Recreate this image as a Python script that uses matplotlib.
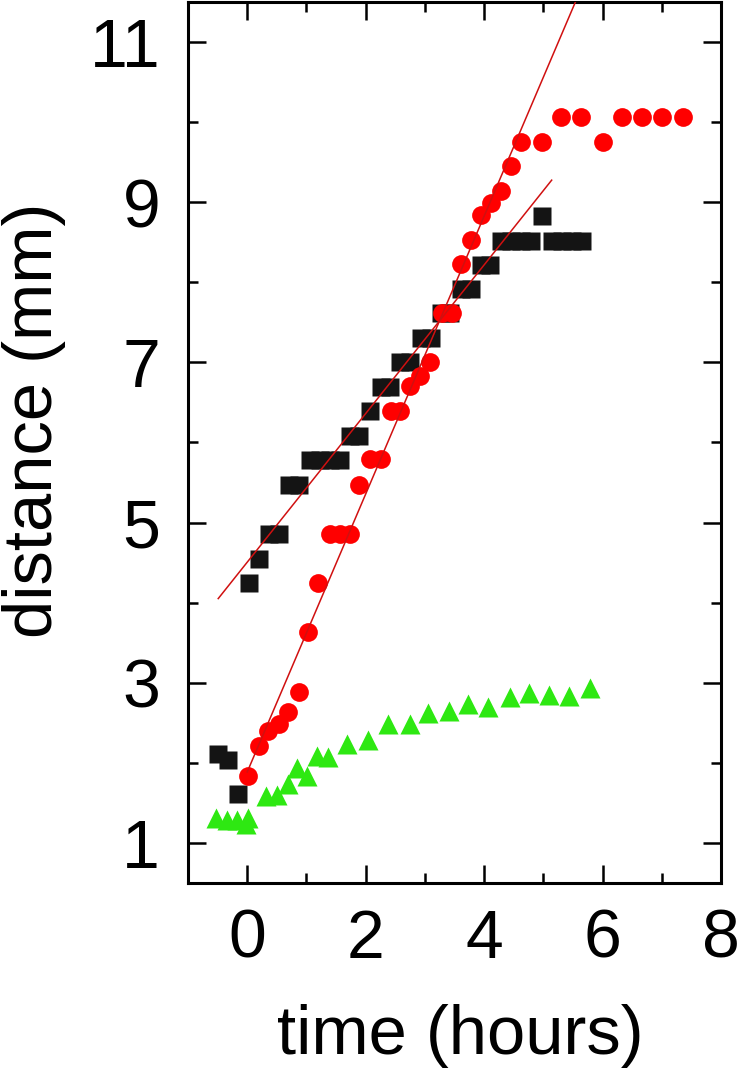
import matplotlib.pyplot as plt
import numpy as np

plt.rcParams['font.family'] = ['Liberation Sans', 'DejaVu Sans']

#-----Data-----#
# black squares
sq_t = [-0.49, -0.32, -0.15, 0.03, 0.20, 0.37, 0.54, 0.71, 0.88, 1.06, 1.23, 1.40, 1.56,
        1.74, 1.89, 2.08, 2.25, 2.41, 2.58, 2.75, 2.93, 3.10, 3.27, 3.43, 3.61, 3.77,
        3.95, 4.10, 4.28, 4.45, 4.62, 4.79, 4.97, 5.14, 5.31, 5.48, 5.65]
sq_d = [2.11, 2.04, 1.61, 4.25, 4.55, 4.86, 4.86, 5.47, 5.47, 5.78, 5.78, 5.78, 5.78,
        6.08, 6.08, 6.39, 6.69, 6.69, 7.00, 7.00, 7.30, 7.30, 7.61, 7.61, 7.91, 7.91,
        8.21, 8.21, 8.52, 8.52, 8.52, 8.52, 8.83, 8.52, 8.52, 8.52, 8.52]

# red circles
ci_t = [0.02, 0.20, 0.35, 0.54, 0.69, 0.88, 1.03, 1.20, 1.39, 1.57, 1.74, 1.89,
        2.08, 2.25, 2.42, 2.58, 2.75, 2.92, 3.09, 3.28, 3.45, 3.61, 3.78, 3.95,
        4.12, 4.29, 4.46, 4.63, 4.97, 5.30, 5.64, 6.00, 6.33, 6.67, 7.01, 7.35]
ci_d = [1.83, 2.21, 2.40, 2.49, 2.64, 2.88, 3.63, 4.25, 4.86, 4.86, 4.86, 5.47,
        5.79, 5.79, 6.39, 6.39, 6.70, 6.83, 7.00, 7.61, 7.61, 8.23, 8.53, 8.84,
        8.99, 9.14, 9.45, 9.75, 9.75, 10.06, 10.06, 9.75, 10.06, 10.06, 10.06, 10.06]

# green triangles
tr_t = [-0.52, -0.35, -0.17, -0.02, 0.02, 0.32, 0.51, 0.69, 0.84, 1.01, 1.18, 1.37,
        1.69, 2.04, 2.38, 2.74, 3.06, 3.41, 3.73, 4.07, 4.43, 4.76, 5.10, 5.44, 5.79]
tr_d = [1.31, 1.29, 1.29, 1.23, 1.31, 1.58, 1.60, 1.74, 1.93, 1.84, 2.08, 2.07,
        2.24, 2.29, 2.49, 2.49, 2.62, 2.65, 2.73, 2.70, 2.82, 2.87, 2.85, 2.84, 2.93]

# linear fits (slope, intercept, t range)
fit_sq = (0.928, 4.505, -0.49, 5.14)
fit_ci = (1.735, 1.886, 0.0, 5.8)

#-----Plot-----#
fig = plt.figure(figsize=(7.5, 10.82), dpi=100)
ax = fig.add_axes([0.2507, 0.184, 0.7107, 0.8142])

for slope, icpt, t0, t1 in (fit_sq, fit_ci):
    tt = np.array([t0, t1])
    ax.plot(tt, slope * tt + icpt, color='#d01010', lw=1.1, zorder=3)

ax.plot(sq_t, sq_d, 's', color='#141414', ms=12.4, mec='none', zorder=2)
ax.plot(ci_t, ci_d, 'o', color='#ff0000', ms=13.5, mec='none', zorder=2)
ax.plot(tr_t, tr_d, '^', color='#2ee812', ms=15, mec='none', zorder=2)

ax.set_xlim(-1, 8)
ax.set_ylim(0.5, 11.5)
ax.set_xticks([0, 2, 4, 6, 8])
ax.set_xticks([1, 3, 5, 7], minor=True)
ax.set_yticks([1, 3, 5, 7, 9, 11])
ax.set_yticks([2, 4, 6, 8, 10], minor=True)

for s in ax.spines.values():
    s.set_linewidth(2.2)
ax.tick_params(which='both', direction='in', top=True, right=True, width=1.8)
ax.tick_params(which='major', length=13, labelsize=49)
ax.tick_params(which='minor', length=7)
ax.tick_params(axis='x', pad=18)
ax.tick_params(axis='y', pad=20)

ax.set_xlabel("time (hours)", fontsize=49.5)
ax.xaxis.set_label_coords(0.51, -0.138)
ax.set_ylabel("distance (mm)", fontsize=49.5)
ax.yaxis.set_label_coords(-0.229, 0.525)

fig.savefig("out.png", dpi=100)
